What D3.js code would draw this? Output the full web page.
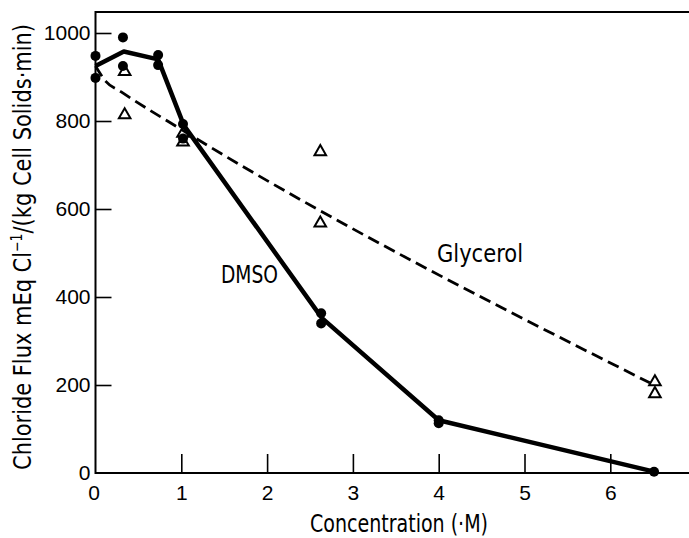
<!DOCTYPE html>
<html>
<head>
<meta charset="utf-8">
<script src="https://cdn.jsdelivr.net/npm/d3@7"></script>
<style>
  body { margin: 0; background: #fff; }
  svg { display: block; }
  .tick text { font-family: "Liberation Sans", Arial, sans-serif; font-size: 21px; fill: #000; }
  .lbl { font-family: "Liberation Sans Narrow", "DejaVu Sans Condensed", "Liberation Sans", sans-serif; fill: #000; }
</style>
</head>
<body>
<svg id="viz" width="689" height="538"></svg>
<script>
// DMSO measured points (filled circles)
let dmsoX = [0, 0, 0.32, 0.32, 0.73, 0.73, 1.02, 1.02, 2.63, 2.63, 4.0, 4.0, 6.51];
let dmsoY = [948, 898, 990, 925, 950, 927, 793, 760, 363, 340, 120, 113, 3];
// DMSO drawn line
let dmsoLineX = [0, 0.33, 0.73, 1.03, 2.64, 4.0, 6.51];
let dmsoLineY = [925, 958, 940, 790, 352, 120, 3];

// Glycerol measured points (open triangles)
let glyX = [0.34, 0.34, 1.02, 1.02, 2.62, 2.62, 6.52, 6.52];
let glyY = [912, 814, 772, 752, 730, 568, 207, 180];
// Glycerol drawn dashed line
let glyLineX = [0, 0.12, 0.3, 1.04, 6.46];
let glyLineY = [925, 890, 866, 776, 205];

let xTicks = [0, 1, 2, 3, 4, 5, 6];
let yTicks = [0, 200, 400, 600, 800, 1000];

function zip(xs, ys) {
	return xs.map((v, i) => ({x: v, y: ys[i]}));
}

function app() {
	let svg = d3.select('#viz');
	let W = 689;

	let x = d3.scaleLinear().domain([0, 7]).range([95.5, 95.5 + 85.8 * 7]);
	let y = d3.scaleLinear().domain([0, 1000]).range([473, 33]);

	// frame: left axis, bottom axis, top border
	let frame = svg.append('g').attr('stroke', '#000').attr('stroke-width', 2);
	frame.append('line').attr('x1', x(0)).attr('x2', x(0)).attr('y1', 11).attr('y2', y(0) + 1);
	frame.append('line').attr('x1', x(0)).attr('x2', W).attr('y1', y(0)).attr('y2', y(0));
	frame.append('line').attr('x1', x(0)).attr('x2', W).attr('y1', 12).attr('y2', 12);

	// y axis, ticks pointing inward
	let yAxis = svg.append('g')
		.attr('transform', `translate(${x(0)},0)`)
		.call(d3.axisLeft(y).tickValues(yTicks).tickSize(-16).tickPadding(6).tickFormat(d3.format('d')));
	yAxis.select('.domain').remove();
	yAxis.selectAll('.tick line').attr('stroke-width', 1.6)
		.attr('display', d => d === 0 ? 'none' : null);
	yAxis.selectAll('.tick text').attr('x', -5);

	// x axis, ticks pointing up
	let xAxis = svg.append('g')
		.attr('transform', `translate(0,${y(0)})`)
		.call(d3.axisBottom(x).tickValues(xTicks).tickSize(-19).tickPadding(12).tickFormat(d3.format('d')));
	xAxis.select('.domain').remove();
	xAxis.selectAll('.tick line').attr('stroke-width', 1.6)
		.attr('display', d => d === 0 ? 'none' : null);
	xAxis.selectAll('.tick text').filter(d => d === 0).attr('x', -2);

	// glycerol dashed line
	let glyLine = d3.line().x(d => x(d.x)).y(d => y(d.y)).curve(d3.curveMonotoneX);
	svg.append('path')
		.datum(zip(glyLineX, glyLineY))
		.attr('d', glyLine)
		.attr('fill', 'none')
		.attr('stroke', '#000')
		.attr('stroke-width', 2.8)
		.attr('stroke-dasharray', '12,6');

	// DMSO solid line
	let dmsoLine = d3.line().x(d => x(d.x)).y(d => y(d.y));
	svg.append('path')
		.datum(zip(dmsoLineX, dmsoLineY))
		.attr('d', dmsoLine)
		.attr('fill', 'none')
		.attr('stroke', '#000')
		.attr('stroke-width', 4.5)
		.attr('stroke-linejoin', 'round');

	// glycerol triangles
	let tri = d3.symbol().type(d3.symbolTriangle).size(58);
	svg.selectAll('.gly')
		.data(zip(glyX, glyY))
		.enter()
		.append('path')
		.attr('class', 'gly')
		.attr('d', tri)
		.attr('transform', d => `translate(${x(d.x)},${y(d.y)})`)
		.attr('fill', 'none')
		.attr('stroke', '#000')
		.attr('stroke-width', 2);

	// DMSO circles
	svg.selectAll('.dmso')
		.data(zip(dmsoX, dmsoY))
		.enter()
		.append('circle')
		.attr('class', 'dmso')
		.attr('cx', d => x(d.x))
		.attr('cy', d => y(d.y))
		.attr('r', 5)
		.attr('fill', '#000');

	// labels (squeezed to the reference's narrow lettering)
	svg.append('text').attr('class', 'lbl')
		.attr('x', 221).attr('y', 283)
		.attr('font-size', 24)
		.attr('textLength', 57).attr('lengthAdjust', 'spacingAndGlyphs')
		.text('DMSO');
	svg.append('text').attr('class', 'lbl')
		.attr('x', 437).attr('y', 262)
		.attr('font-size', 24)
		.attr('textLength', 86).attr('lengthAdjust', 'spacingAndGlyphs')
		.text('Glycerol');

	svg.append('text').attr('class', 'lbl')
		.attr('x', 310).attr('y', 532)
		.attr('font-size', 24)
		.attr('textLength', 178).attr('lengthAdjust', 'spacingAndGlyphs')
		.text('Concentration (·M)');

	let yt = svg.append('text').attr('class', 'lbl')
		.attr('transform', 'translate(31,470) rotate(-90)')
		.attr('font-size', 25)
		.attr('textLength', 446).attr('lengthAdjust', 'spacingAndGlyphs');
	yt.append('tspan').text('Chloride Flux mEq Cl');
	yt.append('tspan').attr('font-size', 15).attr('dy', -9).text('−1');
	yt.append('tspan').attr('dy', 9).text('/(kg Cell Solids·min)');
}

app();
</script>
</body>
</html>
